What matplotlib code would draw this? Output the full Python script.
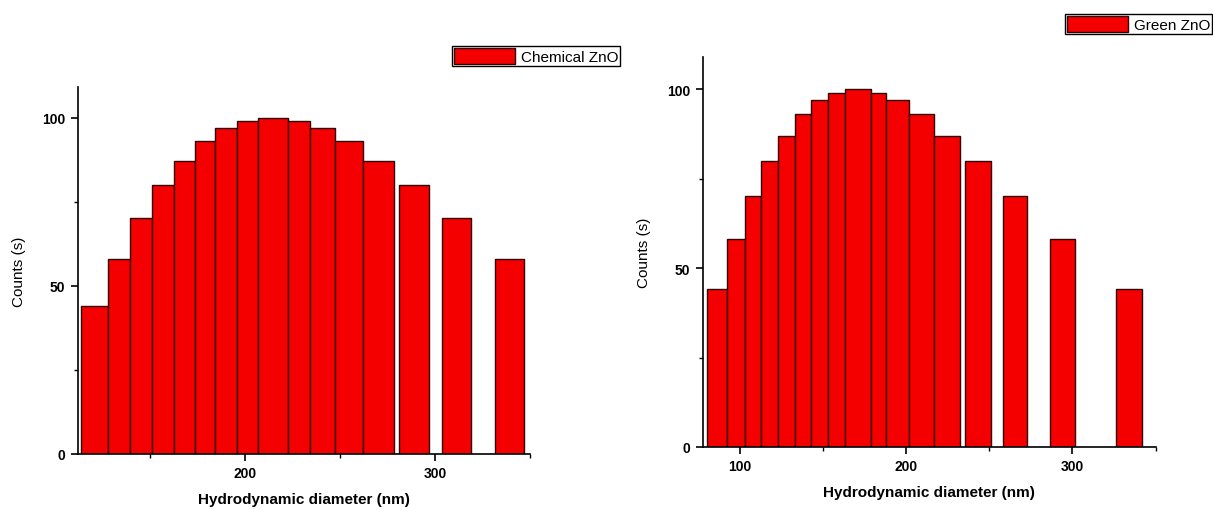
import matplotlib.pyplot as plt
from matplotlib.ticker import MultipleLocator

# bin edges (nm) and counts
chem_left = [113.5, 127.7, 139.6, 151.0, 162.5, 173.3, 184.0, 195.4, 206.7,
             222.3, 234.2, 247.3, 262.1, 280.8, 303.5, 331.3]
chem_right = [127.7, 139.6, 151.0, 162.5, 173.3, 184.0, 195.4, 206.7, 222.3,
              234.2, 247.3, 262.1, 278.1, 296.9, 318.8, 346.5]
chem_counts = [44, 58, 70, 80, 87, 93, 97, 99, 100, 99, 97, 93, 87, 80, 70, 58]

green_left = [80.1, 92.4, 103.0, 112.7, 123.1, 133.1, 142.8, 152.9, 163.6,
              179.1, 187.9, 201.7, 216.8, 235.7, 258.2, 286.6, 326.4]
green_right = [92.4, 103.0, 112.7, 123.1, 133.1, 142.8, 152.9, 163.6, 179.1,
               187.9, 201.7, 216.8, 232.7, 251.2, 273.0, 301.4, 341.6]
green_counts = [44, 58, 70, 80, 87, 93, 97, 99, 100, 99, 97, 93, 87, 80, 70, 58, 44]

plt.rcParams['font.family'] = ['Liberation Sans', 'DejaVu Sans']

fig = plt.figure(figsize=(12.13, 5.10), dpi=100)

def draw(ax, left, right, counts, xlim, label, leg_anchor):
    widths = [r - l for l, r in zip(left, right)]
    ax.bar(left, counts, width=widths, align='edge', color='#f50000',
           edgecolor='#300000', linewidth=1.0, label=label)
    ax.set_xlim(*xlim)
    ax.set_ylim(0, 109)
    ax.spines['top'].set_visible(False)
    ax.spines['right'].set_visible(False)
    ax.spines['left'].set_linewidth(1.2)
    ax.spines['bottom'].set_linewidth(1.2)
    ax.xaxis.set_major_locator(MultipleLocator(100))
    ax.xaxis.set_minor_locator(MultipleLocator(50))
    ax.yaxis.set_major_locator(MultipleLocator(50))
    ax.yaxis.set_minor_locator(MultipleLocator(25))
    ax.tick_params(which='major', direction='out', length=5, width=1.2, pad=4)
    ax.tick_params(which='minor', direction='out', length=3, width=1)
    for t in ax.get_xticklabels() + ax.get_yticklabels():
        t.set_fontweight('bold')
        t.set_fontsize(10)
    ax.set_xlabel('Hydrodynamic diameter (nm)', fontweight='bold',
                  fontsize=11, labelpad=8)
    ax.set_ylabel('Counts (s)', fontsize=11, labelpad=12)
    fig.legend(handles=ax.containers[0][:1], labels=[label], loc='center right',
               bbox_to_anchor=leg_anchor, fancybox=False, edgecolor='black',
               framealpha=1, fontsize=11, handlelength=4, handleheight=1.3,
               borderpad=0.1, handletextpad=0.4, borderaxespad=0)

ax1 = fig.add_axes([0.0643, 0.108, 0.373, 0.719])
draw(ax1, chem_left, chem_right, chem_counts, (112, 350), 'Chemical ZnO',
     (620 / 1213, 1 - 57 / 510))

ax2 = fig.add_axes([0.5796, 0.1216, 0.373, 0.765])
draw(ax2, green_left, green_right, green_counts, (78, 350), 'Green ZnO',
     (1212 / 1213, 1 - 25 / 510))

fig.savefig('out.png', dpi=100)
